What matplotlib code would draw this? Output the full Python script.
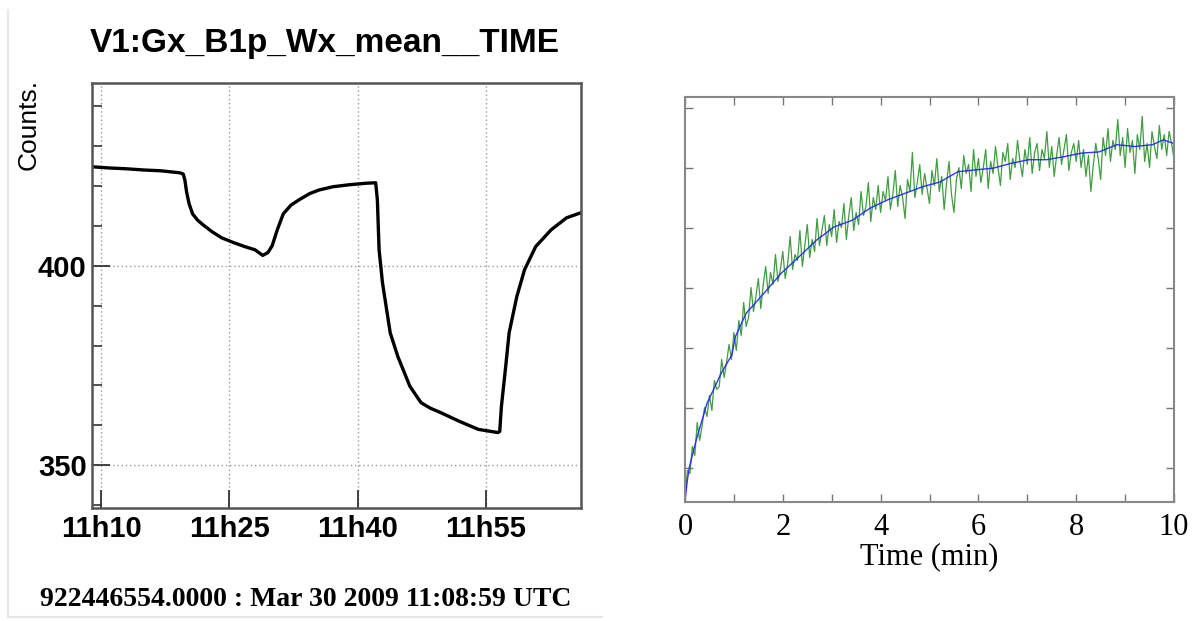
import matplotlib
matplotlib.use("Agg")
import matplotlib.pyplot as plt
from matplotlib.lines import Line2D

# ---------------- data: left panel (minutes after 11h10, counts) ----------------
left_time = [-1.0, 1.0, 3.0, 5.0, 7.0, 9.2, 9.6, 9.8, 10.0, 10.3, 10.7, 11.3, 11.9, 13.0,
             14.1, 15.5, 16.8, 18.0, 18.9, 19.5, 20.0, 20.6, 21.3, 22.2, 23.2, 24.4, 25.5,
             27.1, 29.0, 31.1, 32.1, 32.3, 32.5, 32.9, 33.8, 34.7, 36.1, 37.4, 38.5, 39.7,
             41.9, 44.1, 46.4, 46.6, 46.8, 47.3, 47.7, 48.6, 49.5, 50.8, 52.6, 54.4, 56.1]
left_counts = [424.8, 424.5, 424.3, 424.0, 423.8, 423.3, 423.0, 421.5, 418.5, 415.5, 413.0,
               411.4, 410.3, 408.5, 407.0, 405.8, 404.8, 404.0, 402.6, 403.3, 405.0, 409.0,
               413.0, 415.2, 416.6, 418.1, 419.0, 419.8, 420.3, 420.7, 420.8, 416.5, 404.0,
               395.7, 383.2, 377.2, 369.8, 365.7, 364.3, 363.2, 361.0, 359.0, 358.2, 358.5,
               364.8, 374.8, 383.2, 392.3, 399.0, 404.8, 409.0, 412.0, 413.3]
left_xticks = [0, 15, 30, 45]
left_xticklabels = ["11h10", "11h25", "11h40", "11h55"]
left_yticks = [350, 400]
left_title = "V1:Gx_B1p_Wx_mean__TIME"
left_footer = "922446554.0000 : Mar 30 2009 11:08:59 UTC"

# ---------------- data: right panel ----------------
blue_x = [0.0, 0.05, 0.09, 0.23, 0.45, 0.74, 0.96, 1.03, 1.25, 1.61, 1.97, 2.33, 2.69,
          3.05, 3.42, 3.78, 4.14, 4.50, 4.86, 5.22, 5.58, 5.94, 6.31, 6.67, 7.03, 7.39,
          7.75, 8.11, 8.47, 8.83, 9.20, 9.56, 9.78, 10.0]
blue_y = [-0.55, -0.2, 0.01, 0.46, 1.07, 1.57, 1.88, 2.18, 2.57, 2.90, 3.24, 3.51, 3.79,
          4.01, 4.12, 4.32, 4.46, 4.57, 4.68, 4.76, 4.93, 4.96, 4.99, 5.07, 5.13, 5.13,
          5.18, 5.24, 5.26, 5.38, 5.35, 5.38, 5.46, 5.40]

green_y = [
    -0.55, -0.05, -0.1, 0.35, 0.2, 0.75, 0.45, 0.7, 1.0, 0.85, 1.2, 0.95, 1.45, 1.3, 1.35, 1.8, 1.5, 1.75, 2.05, 1.8,
    2.25, 1.95, 2.45, 2.2, 2.75, 2.35, 2.5, 3.0, 2.6, 2.85, 3.15, 2.65, 3.05, 3.35, 2.9, 3.25, 3.05, 3.55, 3.1, 3.3,
    3.6, 3.15, 3.4, 3.85, 3.3, 3.55, 3.45, 3.95, 3.35, 3.7, 4.05, 3.5, 3.8, 3.6, 4.15, 3.7, 3.95, 4.2, 3.7, 4.05,
    3.85, 4.3, 3.75, 4.1, 4.0, 4.4, 3.8, 4.2, 4.5, 3.95, 4.25, 4.05, 4.6, 4.2, 4.35, 4.75, 4.1, 4.5, 4.3, 4.7,
    4.25, 4.6, 4.45, 4.85, 4.3, 4.55, 4.95, 4.35, 4.7, 4.5, 4.15, 4.8, 4.6, 5.25, 4.5, 4.75, 5.05, 4.55, 4.9, 4.65,
    4.4, 4.95, 4.7, 5.15, 4.6, 4.85, 4.3, 4.75, 5.1, 4.55, 4.25, 4.8, 5.0, 4.65, 5.2, 4.9, 5.05, 4.6, 5.3, 4.85,
    5.15, 4.75, 5.0, 5.3, 4.65, 5.1, 4.9, 5.35, 5.0, 4.7, 5.25, 5.1, 5.4, 4.8, 5.15, 5.0, 5.45, 5.1, 4.85, 5.3,
    5.05, 5.5, 4.9, 5.25, 5.4, 4.95, 5.3, 5.15, 5.6, 5.0, 5.35, 4.85, 5.2, 5.5, 5.05, 5.3, 5.55, 4.95, 5.25, 5.4,
    5.1, 5.45, 5.0, 5.3, 4.85, 5.2, 4.6, 5.05, 5.4, 5.15, 4.8, 5.5, 5.2, 5.65, 5.1, 5.45, 5.3, 5.8, 5.2, 5.5,
    5.0, 5.65, 5.25, 5.45, 4.9, 5.55, 5.3, 5.85, 5.1, 5.4, 5.0, 5.6, 5.35, 5.15, 5.7, 5.3, 5.55, 5.2, 5.6, 5.4, 5.15,
]
green_step = 0.05
green_x = [i * green_step for i in range(len(green_y))]

right_xticks = list(range(0, 11))
right_xticklabels = ["0", "", "2", "", "4", "", "6", "", "8", "", "10"]
right_yticks = [0, 1, 2, 3, 4, 5, 6]
right_xlabel = "Time (min)"

# ---------------- figure ----------------
W, H = 1196, 621
fig = plt.figure(figsize=(W / 100, H / 100), dpi=100)
fig.patch.set_facecolor("white")

# faint frame of the left screenshot
fig.add_artist(Line2D([8 / W, 8 / W], [1 - 10 / H, 1 - 617 / H], color="#e6e6e6", lw=1.5))
fig.add_artist(Line2D([8 / W, 602 / W], [1 - 617 / H, 1 - 617 / H], color="#e6e6e6", lw=1.5))

# ---- left panel ----
ax1 = fig.add_axes([92.3 / W, 1 - 508 / H, (581 - 92.3) / W, (508 - 83) / H])
ax1.plot(left_time, left_counts, color="black", lw=2.4, solid_joinstyle="round")
ax1.set_xlim(-1.02, 56.1)
ax1.set_ylim(339.3, 445.8)
ax1.set_xticks(left_xticks)
ax1.set_xticklabels(left_xticklabels)
ax1.set_yticks(left_yticks)
ax1.set_yticks(list(range(340, 446, 10)), minor=True)
ax1.grid(True, which="major", linestyle=(0, (1, 2)), color="#9a9a9a", lw=1.0)
ax1.tick_params(axis="both", which="major", direction="in", length=13, width=1.3,
                color="#333333", labelsize=21, pad=4)
ax1.tick_params(axis="y", which="minor", direction="in", length=7, width=1.2, color="#333333")
ax1.tick_params(axis="x", which="major", pad=5)
for lab in ax1.get_xticklabels() + ax1.get_yticklabels():
    lab.set_fontweight("bold")
    lab.set_family("Liberation Sans")
for sp in ax1.spines.values():
    sp.set_color("#555555")
    sp.set_linewidth(1.8)

fig.text(325 / W, 1 - 52 / H, left_title, ha="center", va="baseline", fontsize=24,
         fontweight="bold", family="Liberation Sans")
fig.text(29 / W, 1 - 125 / H, "Counts.", rotation=90, ha="center", va="center",
         fontsize=19, family="Liberation Sans")
fig.text(40 / W, 1 - 600 / H, left_footer, ha="left", va="center", fontsize=20,
         fontweight="bold", family="Liberation Serif")

# ---- right panel ----
ax2 = fig.add_axes([685 / W, 1 - 502 / H, (1174 - 685) / W, (502 - 97) / H])
ax2.plot(green_x, green_y, color="#1e8c1e", lw=0.9, alpha=0.85)
ax2.plot(blue_x, blue_y, color="#2020ff", lw=1.0, alpha=0.9)
ax2.set_xlim(0, 10)
ax2.set_ylim(-0.575, 6.175)
ax2.set_xticks(right_xticks)
ax2.set_xticklabels(right_xticklabels)
ax2.set_yticks(right_yticks)
ax2.set_yticklabels([])
ax2.tick_params(axis="both", direction="in", length=6, width=1.0, color="#777777",
                top=True, right=True, labelsize=22, pad=8)
for lab in ax2.get_xticklabels():
    lab.set_family("Liberation Serif")
ax2.set_xlabel(right_xlabel, fontsize=22, family="Liberation Serif", labelpad=0)
for sp in ax2.spines.values():
    sp.set_color("#888888")
    sp.set_linewidth(1.5)

fig.savefig("out.png", dpi=100, facecolor="white")
